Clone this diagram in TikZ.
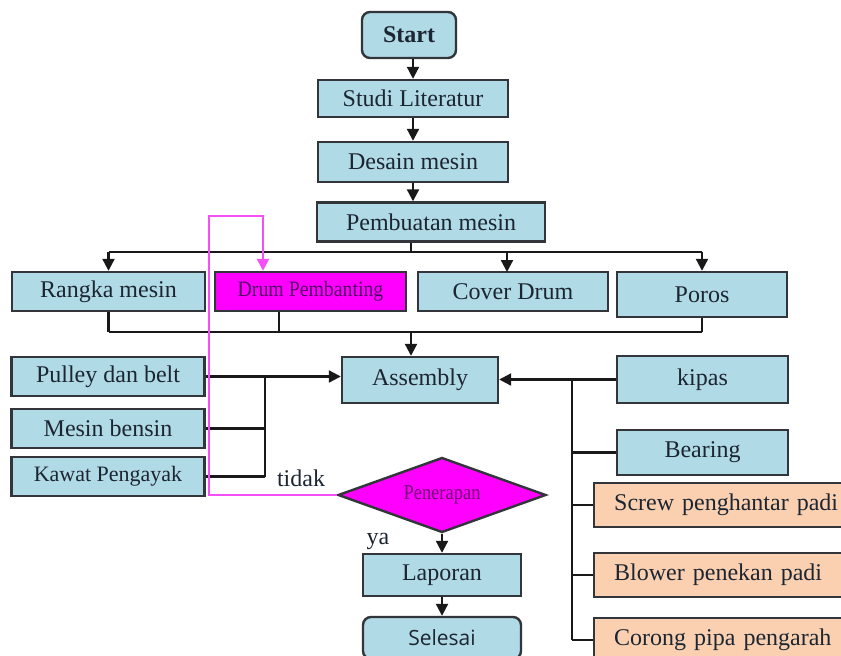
\documentclass[tikz,border=0pt]{standalone}
\usepackage{fontspec}
\setmainfont{Liberation Serif}
\newfontfamily\selfont{Open Sans}
\usetikzlibrary{arrows.meta,shapes.geometric}
\definecolor{boxblue}{RGB}{176,218,230}
\definecolor{boxpeach}{RGB}{251,208,176}
\definecolor{bordergray}{RGB}{50,54,58}
\definecolor{textdark}{RGB}{28,38,50}
\definecolor{mag}{RGB}{255,0,255}
\definecolor{magline}{RGB}{245,80,245}
\definecolor{magtext}{RGB}{80,0,100}
\definecolor{pentext}{RGB}{110,0,115}
\definecolor{linec}{RGB}{25,25,25}
\begin{document}
\begin{tikzpicture}[x=1pt,y=-1pt,
  box/.style={draw=bordergray, line width=2.4pt, fill=boxblue, text=textdark,
    font=\fontsize{24}{28}\selectfont, inner sep=0pt},
  pbox/.style={box, fill=boxpeach, anchor=west, text width=240pt, align=left,
    inner xsep=20pt, minimum height=44pt},
  conn/.style={draw=linec, line width=2.2pt},
  arr/.style={conn, -{Triangle[length=12pt,width=12pt]}},
  marr/.style={draw=magline, line width=2.4pt, -{Triangle[length=12pt,width=12pt]}},
  lbl/.style={text=textdark, font=\fontsize{24}{28}\selectfont, inner sep=0pt}]
\useasboundingbox (0,0) rectangle (841,656);
\fill[white] (0,0) rectangle (841,656);

% top chain
\node[box, rounded corners=8pt, minimum width=94pt, minimum height=46pt,
  font=\fontsize{24}{28}\selectfont\bfseries] (start) at (409,35) {Start};
\node[box, minimum width=190pt, minimum height=37pt] (studi) at (413,98.5) {Studi Literatur};
\node[box, minimum width=190pt, minimum height=40pt] (desain) at (413,162) {Desain mesin};
\node[box, minimum width=228pt, minimum height=39pt] (pemb) at (431,222) {Pembuatan mesin};

% row of parts
\node[box, minimum width=193pt, minimum height=39pt] (rangka) at (108.5,291.5) {Rangka mesin};
\node[box, fill=mag, text=magtext, minimum width=191pt, minimum height=39pt,
  font=\fontsize{22}{26}\selectfont] (drum) at (310.5,291.5) {\scalebox{0.9}[1]{Drum Pembanting}};
\node[box, minimum width=190pt, minimum height=39pt] (cover) at (513,291.5) {Cover Drum};
\node[box, minimum width=170pt, minimum height=45pt] (poros) at (702,294.5) {Poros};

% assembly and left inputs
\node[box, minimum width=156pt, minimum height=46pt] (asm) at (420,380) {Assembly};
\node[box, minimum width=193pt, minimum height=39pt] (pulley) at (108,376.5) {Pulley dan belt};
\node[box, minimum width=193pt, minimum height=39pt] (bensin) at (108,428.5) {Mesin bensin};
\node[box, minimum width=193pt, minimum height=39pt,
  font=\fontsize{22}{26}\selectfont] (kawat) at (108,476.5) {Kawat Pengayak};

% right inputs
\node[box, minimum width=171pt, minimum height=47pt] (kipas) at (702.5,379.5) {kipas};
\node[box, minimum width=171pt, minimum height=45pt] (bearing) at (702.5,452.5) {Bearing};
\node[pbox] (screw) at (593,505) {Screw penghantar padi};
\node[pbox] (blower) at (593,575) {Blower penekan padi};
\node[pbox] (corong) at (593,640) {Corong pipa pengarah};

% decision and end
\node[diamond, draw=bordergray, line width=2.4pt, fill=mag, text=pentext, inner sep=0pt,
  minimum width=208pt, minimum height=75pt, aspect=2.8,
  font=\fontsize{21}{25}\selectfont] (pen) at (442,495) {\scalebox{0.88}[1]{Penerapan}};
\node[box, minimum width=158pt, minimum height=42pt] (lap) at (442,575) {Laporan};
\node[box, rounded corners=8pt, minimum width=158pt, minimum height=42pt,
  font=\fontsize{21}{25}\selectfont\selfont] (sel) at (442,638) {Selesai};

\node[lbl] (tidak) at (301,478) {tidak};
\node[lbl] (ya) at (378,541) {ya};

% top chain connectors
\draw[arr] (studi.north |- start.south) -- (studi.north);
\draw[arr] (studi.south) -- (desain.north);
\draw[arr] (desain.south) -- (desain.south |- pemb.north);

% upper bus
\coordinate (bt) at (411,252);
\coordinate (bl) at (108.5,252);
\coordinate (br) at (702,252);
\draw[conn] (pemb.south -| bt) -- (bt);
\draw[conn] (bl) -- (br);
\draw[arr] (bl) -- (rangka.north);
\draw[arr] (507,252) -- (507,272);
\draw[arr] (br) -- (poros.north);

% lower bus
\coordinate (ll) at (108.5,332);
\coordinate (lr) at (702,332);
\coordinate (dj) at (279,332);
\coordinate (lj) at (411,332);
\draw[conn] (rangka.south) -- (ll);
\draw[conn] (dj |- drum.south) -- (dj);
\draw[conn] (poros.south) -- (lr);
\draw[conn] (ll) -- (lr);
\draw[arr] (lj) -- (asm.north -| lj);

% left inputs
\coordinate (lv) at (265,0);
\draw[arr] (pulley.east) -- (pulley.east -| asm.west);
\draw[conn] (pulley.east -| lv) -- (kawat.east -| lv);
\draw[conn] (bensin.east) -- (bensin.east -| lv);
\draw[conn] (kawat.east) -- (kawat.east -| lv);

% right inputs
\coordinate (rv) at (572,0);
\draw[arr] (kipas.west) -- (kipas.west -| asm.east);
\draw[conn] (kipas.west -| rv) -- (corong.west -| rv);
\draw[conn] (bearing.west) -- (bearing.west -| rv);
\draw[conn] (screw.west) -- (screw.west -| rv);
\draw[conn] (blower.west) -- (blower.west -| rv);
\draw[conn] (corong.west) -- (corong.west -| rv);

% feedback loop
\coordinate (m1) at (209,216);
\coordinate (m2) at (263,216);
\draw[marr] (pen.west) -- (pen.west -| m1) -- (m1) -- (m2) -- (m2 |- drum.north);

% bottom chain
\draw[arr] (pen.south) -- (lap.north);
\draw[arr] (lap.south) -- (sel.north);
\end{tikzpicture}
\end{document}
